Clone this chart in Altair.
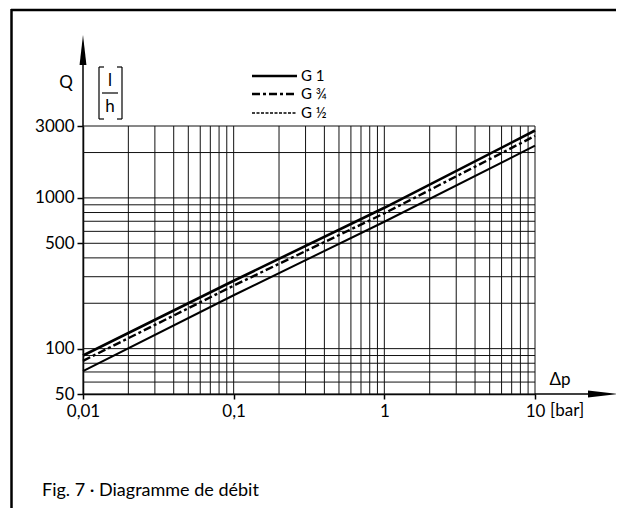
import altair as alt
import pandas as pd

# ---- data ----
dp_points = [0.01, 0.1, 1, 10]            # Δp [bar]
q_g1 = [90, 282, 860, 2800]                # G 1   [l/h]
q_g34 = [83, 262, 790, 2580]               # G 3/4 [l/h]
q_g12 = [71, 226, 695, 2220]               # G 1/2 [l/h]
series_names = ["G 1", "G ¾", "G ½"]

x_grid = [0.01, 0.02, 0.03, 0.04, 0.05, 0.06, 0.07, 0.08, 0.09,
          0.1, 0.2, 0.3, 0.4, 0.5, 0.6, 0.7, 0.8, 0.9,
          1, 2, 3, 4, 5, 6, 7, 8, 9, 10]
y_grid = [50, 60, 70, 80, 90, 100, 200, 300, 400, 500, 600, 700, 800, 900,
          1000, 2000, 3000]
x_tick_values = [0.01, 0.1, 1, 10]
y_tick_values = [50, 100, 500, 1000, 3000]

FONT = "Lato"
W, H = 452, 268

rows = []
for name, qs in zip(series_names, [q_g1, q_g34, q_g12]):
    for dp, q in zip(dp_points, qs):
        rows.append({"series": name, "dp": dp, "q": q})
df = pd.DataFrame(rows)
dummy = pd.DataFrame({"a": [0]})

xscale = alt.Scale(type="log", domain=[0.01, 10], nice=False)
yscale = alt.Scale(type="log", domain=[50, 3000], nice=False)

xaxis = alt.Axis(values=x_tick_values, grid=False, domain=True, domainColor="black",
                 domainWidth=1.5, tickColor="black", tickSize=5, tickWidth=1.5,
                 labelFont=FONT, labelFontSize=17, labelColor="black", labelPadding=4,
                 labelFlush=False, labelOverlap=False, title=None,
                 labelExpr="datum.value >= 1 ? format(datum.value, 'd') : replace(format(datum.value, '.2~f'), '.', ',')")
yaxis = alt.Axis(values=y_tick_values, grid=False, domain=True, domainColor="black",
                 domainWidth=1.5, tickColor="black", tickSize=6, tickWidth=1.5,
                 labelFont=FONT, labelFontSize=17, labelColor="black", labelPadding=3,
                 labelFlush=False, labelOverlap=False, format="d", title=None)

xg = alt.Chart(pd.DataFrame({"v": x_grid})).mark_rule(color="#111111", strokeWidth=1).encode(
    x=alt.X("v:Q", scale=xscale, axis=xaxis))
yg = alt.Chart(pd.DataFrame({"v": y_grid})).mark_rule(color="#111111", strokeWidth=1).encode(
    y=alt.Y("v:Q", scale=yscale, axis=yaxis))


def series_line(name, width, dash=None):
    kw = {"strokeDash": dash} if dash else {}
    return alt.Chart(df).transform_filter(alt.datum.series == name).mark_line(
        color="black", strokeWidth=width, **kw).encode(
        x=alt.X("dp:Q", scale=xscale, axis=xaxis),
        y=alt.Y("q:Q", scale=yscale, axis=yaxis))


def rule(x1, y1, x2, y2, w=1.0, dash=None):
    kw = {"strokeDash": dash} if dash else {}
    return alt.Chart(dummy).mark_rule(color="black", strokeWidth=w, **kw).encode(
        x=alt.value(x1), x2=alt.value(x2), y=alt.value(y1), y2=alt.value(y2))


def text(s, x, y, size, align="left"):
    return alt.Chart(dummy).mark_text(text=s, font=FONT, fontSize=size, align=align,
                                      baseline="middle", color="black").encode(
        x=alt.value(x), y=alt.value(y))


def arrow(path, x, y):
    return alt.Chart(dummy).mark_point(shape=path, filled=True, size=900, color="black",
                                       opacity=1, strokeWidth=0).encode(
        x=alt.value(x), y=alt.value(y))


lines = [
    series_line("G 1", 2.6),
    series_line("G ¾", 2.4, [8, 3, 3, 3]),
    series_line("G ½", 2.0),
]

annotations = [
    # axis extensions and arrows
    rule(0, -70, 0, 0, 1.5),
    rule(W, H, 510, H, 1.5),
    arrow("M 0 -1 L 0.23 1 L -0.23 1 Z", 0, -76),
    arrow("M 1 0 L -1 -0.23 L -1 0.23 Z", 520, H),
    # axis titles
    text("Q", -17, -43, 17, "center"),
    text("Δp", 477, 254, 17, "center"),
    text("[bar]", 467, 285, 17, "left"),
    # [l/h] unit
    rule(16, -59, 16, -7, 1.2), rule(16, -59, 21, -59, 1.2), rule(16, -7, 21, -7, 1.2),
    rule(39, -59, 39, -7, 1.2), rule(34, -59, 39, -59, 1.2), rule(34, -7, 39, -7, 1.2),
    rule(19, -33, 35, -33, 1.2),
    text("l", 27, -45, 17, "center"),
    text("h", 27, -19, 17, "center"),
    # legend
    rule(169, -50, 214, -50, 2.6),
    rule(169, -32, 214, -32, 2.4, [8, 3, 3, 3]),
    rule(169, -13, 214, -13, 1.6, [3, 1.5]),
    text(series_names[0], 218, -50, 15),
    text(series_names[1], 218, -32, 15),
    text(series_names[2], 218, -13, 15),
    # caption
    text("Fig. 7 · Diagramme de débit", -41, 365, 18),
    # frame (top and left)
    rule(-72, -116, 560, -116, 2.5),
    rule(-71.5, -117, -71.5, 400, 2.5),
]

chart = alt.layer(xg, yg, *lines, *annotations).properties(
    width=W, height=H,
    padding={"left": 75, "top": 118, "right": 81, "bottom": 114},
    autosize=alt.AutoSizeParams(type="none"),
    background="white",
).configure_view(stroke=None)

chart.save("out.html", embed_options={"renderer": "svg", "actions": False})
